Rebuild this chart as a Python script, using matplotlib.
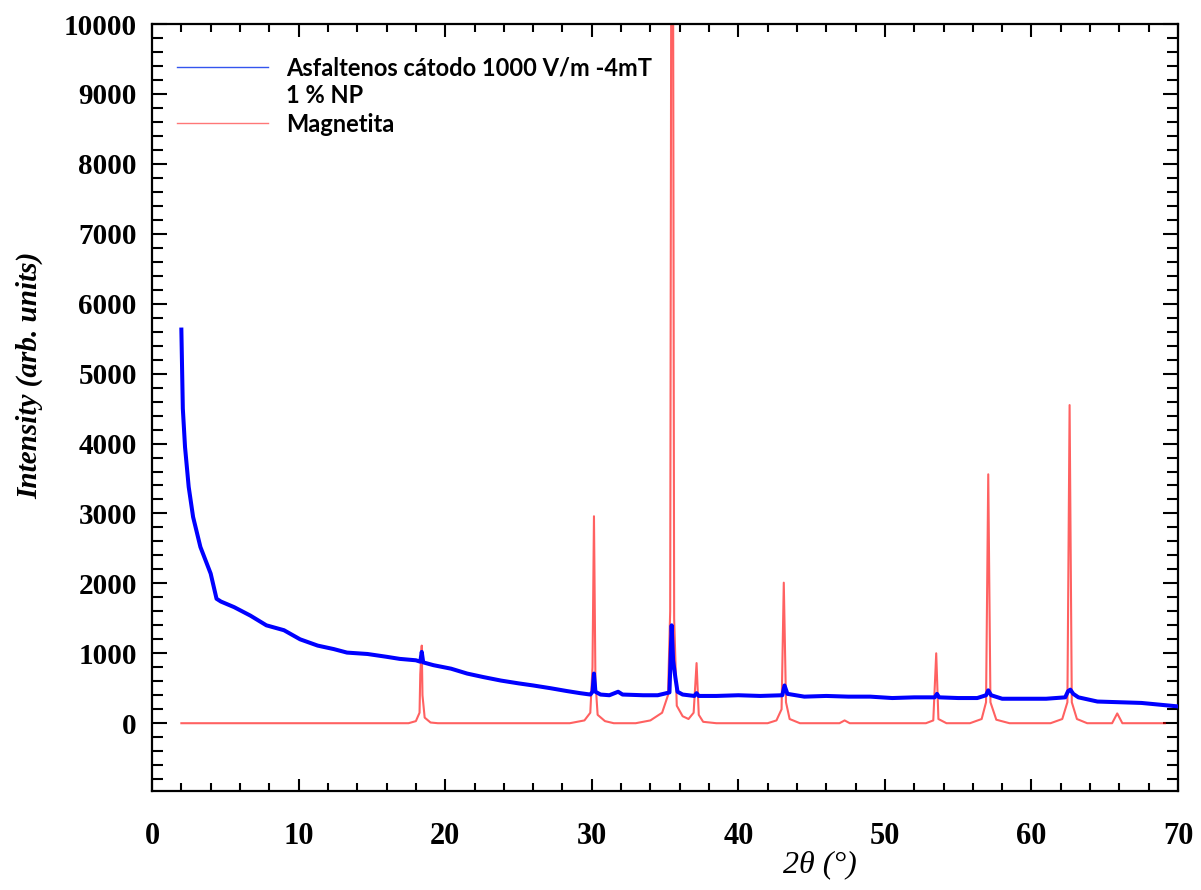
import matplotlib
matplotlib.use('Agg')
import matplotlib.pyplot as plt
from matplotlib.lines import Line2D
from matplotlib.ticker import MultipleLocator

# Asfaltenos (blue)
blue_x = [2.0, 2.1, 2.25, 2.5, 2.8, 3.3, 4.0, 4.4, 4.7, 5.6, 6.7, 7.8, 9.0, 10.1, 11.3,
          12.4, 13.3, 14.7, 16.0, 16.9, 18.0, 18.3, 18.4, 18.5, 19.2, 20.4, 21.5, 22.6,
          23.8, 25.0, 26.0, 27.2, 28.3, 29.2, 29.9, 30.05, 30.15, 30.25, 30.6, 31.2, 31.8,
          32.1, 33.5, 34.5, 35.3, 35.45, 35.55, 35.7, 35.85, 36.2, 37.0, 37.15, 37.3, 38.5,
          40.0, 41.5, 43.0, 43.15, 43.35, 44.5, 46.0, 47.5, 49.0, 50.5, 52.0, 53.4, 53.55,
          53.7, 55.0, 56.3, 56.9, 57.05, 57.25, 58.0, 59.5, 61.0, 62.3, 62.5, 62.65, 62.85,
          63.2, 64.5, 66.0, 67.5, 69.0, 70.0]
blue_y = [5630, 4500, 3950, 3380, 2950, 2520, 2140, 1780, 1740, 1660, 1540, 1400, 1330, 1200, 1110,
          1060, 1010, 990, 950, 920, 900, 880, 1020, 870, 830, 780, 710, 660,
          610, 570, 540, 500, 460, 430, 410, 450, 710, 450, 410, 400, 450,
          410, 400, 400, 440, 1400, 900, 660, 450, 410, 390, 430, 390, 390,
          400, 390, 400, 540, 420, 380, 390, 380, 380, 360, 370, 370, 420,
          370, 360, 360, 400, 470, 400, 350, 350, 350, 370, 460, 480, 420,
          370, 310, 300, 290, 260, 240]

# Magnetita (red)
red_x = [2.0, 17.5, 18.0, 18.25, 18.3, 18.4, 18.45, 18.6, 19.0, 19.5,
         28.5, 29.5, 29.9, 30.05, 30.15, 30.25, 30.4, 30.9, 31.5,
         33.0, 34.0, 34.8, 35.2, 35.35, 35.42, 35.55, 35.62, 35.8, 36.2, 36.6,
         36.95, 37.15, 37.3, 37.6, 38.5,
         42.0, 42.6, 42.95, 43.1, 43.25, 43.5, 44.2,
         46.9, 47.25, 47.6,
         52.8, 53.3, 53.5, 53.65, 54.2,
         55.8, 56.6, 56.9, 57.05, 57.2, 57.6, 58.5,
         61.3, 62.1, 62.45, 62.6, 62.75, 63.1, 63.8,
         65.5, 65.85, 66.2, 69.1]
red_y = [0, 0, 30, 150, 700, 1110, 400, 80, 10, 0,
         0, 40, 150, 800, 2960, 600, 120, 30, 0,
         0, 40, 150, 400, 1600, 10500, 10500, 1500, 250, 100, 60,
         150, 860, 120, 20, 0,
         0, 40, 200, 2010, 300, 60, 0,
         0, 40, 0,
         0, 40, 1000, 60, 0,
         0, 60, 300, 3560, 300, 50, 0,
         0, 60, 300, 4550, 300, 60, 0,
         0, 140, 0, 0]

x_ticks = [0, 10, 20, 30, 40, 50, 60, 70]
y_ticks = [0, 1000, 2000, 3000, 4000, 5000, 6000, 7000, 8000, 9000, 10000]

plt.rcParams['font.family'] = ['Liberation Serif', 'DejaVu Serif']
plt.rcParams['font.weight'] = 'bold'

fig = plt.figure(figsize=(12.01, 8.90), dpi=100)
ax = fig.add_axes([0.1266, 0.1112, 0.8543, 0.8618])

ax.plot(red_x, red_y, color='red', alpha=0.62, lw=1.5, zorder=2)
ax.plot(blue_x, blue_y, color='#0000ff', lw=2.9, zorder=3)

ax.set_xlim(0, 70)
ax.set_ylim(-970, 10000)
ax.set_xticks(x_ticks)
ax.set_yticks(y_ticks)
ax.xaxis.set_minor_locator(MultipleLocator(2))
ax.yaxis.set_minor_locator(MultipleLocator(200))

for s in ax.spines.values():
    s.set_linewidth(1.6)
ax.tick_params(axis='both', which='both', direction='in', top=True, right=True, width=1.5)
ax.tick_params(axis='y', which='major', length=11, labelsize=21, pad=11)
ax.tick_params(axis='y', which='minor', length=8)
ax.tick_params(axis='x', which='major', length=9, labelsize=22, pad=22)
ax.tick_params(axis='x', which='minor', length=6)

fig.text(0.683, 0.028, '2θ (°)', fontsize=23, style='italic', fontweight='normal',
         ha='center', va='center')
fig.text(0.025, 0.578, 'Intensity (arb. units)', fontsize=21, style='italic',
         fontweight='bold', rotation=90, ha='center', va='center')

handles = [Line2D([], [], color='#3355ee', lw=1.0),
           Line2D([], [], color='none', lw=1.0),
           Line2D([], [], color='#ff7777', lw=1.0)]
labels = ['Asfaltenos cátodo 1000 V/m -4mT', '1 % NP', 'Magnetita']
ax.legend(handles, labels, loc='upper left', bbox_to_anchor=(0.024, 0.958),
          frameon=False, borderpad=0, borderaxespad=0, handlelength=3.85,
          handletextpad=0.8, labelspacing=0.22,
          prop={'family': 'Lato', 'weight': 'bold', 'size': 17})

fig.savefig('out.png', dpi=100)
